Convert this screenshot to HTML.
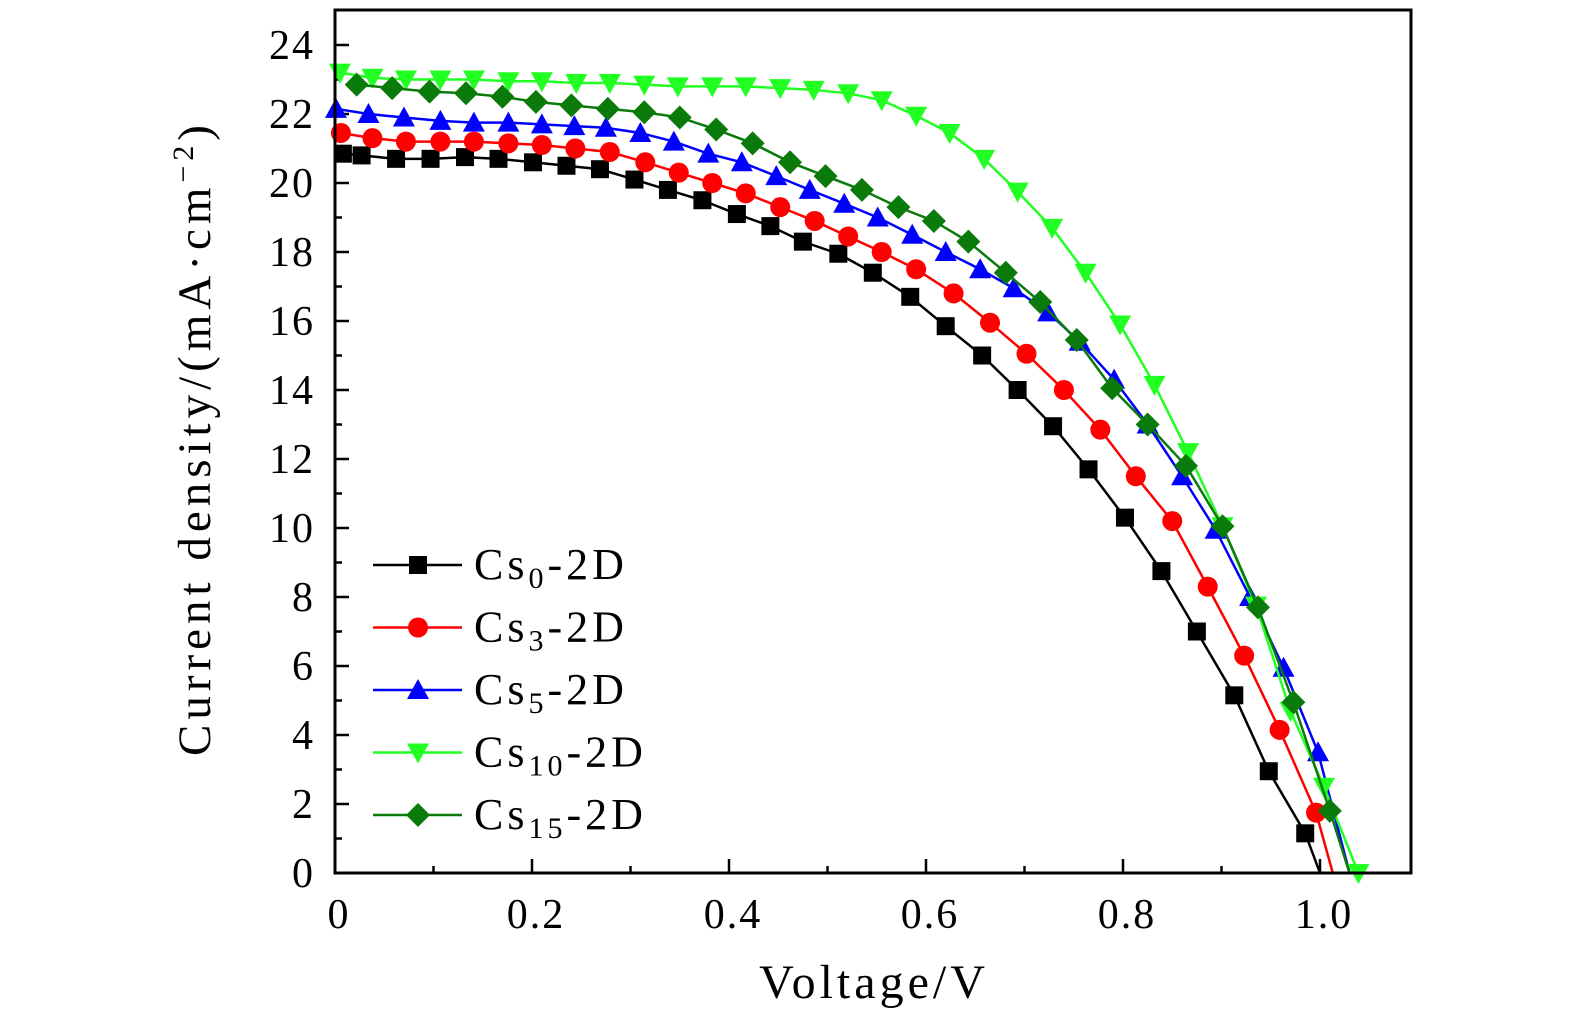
<!DOCTYPE html>
<html><head><meta charset="utf-8"><style>
html,body{margin:0;padding:0;background:#fff;}
svg text{font-family:"Liberation Serif","DejaVu Serif",serif;}
</style></head><body>
<svg id="chart" width="1575" height="1024" xmlns="http://www.w3.org/2000/svg"></svg>
<script>
const xTicks=[0,0.2,0.4,0.6,0.8,1.0];
const xTickLabels=["0","0.2","0.4","0.6","0.8","1.0"];
const yTicks=[0,2,4,6,8,10,12,14,16,18,20,22,24];
const v0=[.008,.027,.062,.097,.132,.166,.201,.235,.269,.304,.338,.373,.408,.442,.475,.511,.546,.584,.620,.657,.693,.729,.765,.802,.839,.875,.913,.948,.985];
const j0=[20.85,20.8,20.7,20.7,20.75,20.7,20.6,20.5,20.4,20.1,19.8,19.5,19.1,18.75,18.3,17.95,17.4,16.7,15.85,15.0,14.0,12.95,11.7,10.3,8.75,7.0,5.15,2.95,1.15];
const v3=[.006,.038,.072,.107,.141,.176,.210,.244,.279,.315,.349,.383,.417,.452,.487,.521,.555,.590,.628,.665,.702,.740,.777,.813,.850,.886,.923,.959,.996];
const j3=[21.45,21.3,21.2,21.2,21.2,21.15,21.1,21.0,20.9,20.6,20.3,20.0,19.7,19.3,18.9,18.45,18.0,17.5,16.8,15.95,15.05,14.0,12.85,11.5,10.2,8.3,6.3,4.15,1.75];
const v5=[.001,.034,.070,.107,.141,.176,.210,.243,.275,.310,.344,.379,.413,.448,.482,.517,.551,.586,.620,.655,.689,.724,.756,.791,.825,.860,.894,.929,.963,.998];
const j5=[22.15,22.0,21.9,21.8,21.75,21.75,21.7,21.65,21.6,21.45,21.2,20.85,20.6,20.2,19.8,19.4,19.0,18.5,18.0,17.5,16.95,16.25,15.4,14.3,13.0,11.5,9.95,8.0,5.95,3.5];
const v10=[.005,.038,.072,.107,.141,.176,.210,.245,.279,.314,.348,.383,.417,.452,.486,.521,.555,.590,.624,.659,.693,.728,.762,.797,.832,.866,.901,.935,.970,1.004,1.039];
const j10=[23.2,23.05,23.0,23.0,23.0,22.95,22.95,22.9,22.9,22.85,22.8,22.8,22.8,22.75,22.7,22.6,22.4,21.95,21.45,20.7,19.75,18.7,17.4,15.9,14.15,12.2,10.05,7.75,4.7,2.5,0];
const v15=[.022,.058,.096,.133,.170,.204,.240,.277,.314,.350,.387,.424,.462,.498,.535,.572,.608,.643,.681,.716,.753,.789,.825,.864,.901,.937,.973,1.010];
const j15=[22.85,22.75,22.65,22.6,22.5,22.35,22.25,22.15,22.05,21.9,21.55,21.15,20.6,20.2,19.8,19.3,18.9,18.3,17.4,16.55,15.45,14.05,13.0,11.8,10.05,7.7,4.95,1.8];
const vocs=[1.0,1.013,1.030,1.039,1.030];
const names=["0","3","5","10","15"];
const colors=["#000","#f00","#00f","#2f2","#0a7a0a"];
const markers=["square","circle","triangle","tri-down","diamond"];
const seriesV=[v0,v3,v5,v10,v15], seriesJ=[j0,j3,j5,j10,j15];

const NS="http://www.w3.org/2000/svg";
const svg=document.getElementById('chart');
const L=335,R=1411,T=10,B=873;
const X=v=>L+v*985, Y=j=>B-j*34.5;
function mk(tag,attrs,parent){const e=document.createElementNS(NS,tag);for(const k in attrs)e.setAttribute(k,attrs[k]);(parent||svg).appendChild(e);return e;}

const tg=mk('g',{});


for(let i=0;i<=10;i++){const v=i/10;const len=i%2==0?14:7;mk('line',{x1:X(v),x2:X(v),y1:B,y2:B-len,stroke:'#000','stroke-width':2.5},tg);}
for(let i=0;i<=24;i++){const len=i%2==0?14:7;mk('line',{x1:L,x2:L+len,y1:Y(i),y2:Y(i),stroke:'#000','stroke-width':2.5},tg);}
xTicks.forEach((v,i)=>{const t=mk('text',{x:X(v)+4,y:B+55,'font-size':42,'letter-spacing':2,'text-anchor':'middle'});t.textContent=xTickLabels[i];

});
yTicks.forEach(j=>{const t=mk('text',{x:L-20,y:Y(j)+14,'font-size':42,'letter-spacing':2,'text-anchor':'end'});t.textContent=String(j);

});

function marker(g,type,x,y,c){
  if(type=='square')mk('rect',{x:x-9,y:y-9,width:18,height:18,fill:c},g);
  else if(type=='circle')mk('circle',{cx:x,cy:y,r:10,fill:c},g);
  else if(type=='triangle')mk('polygon',{points:`${x},${y-11} ${x+11},${y+9} ${x-11},${y+9}`,fill:c},g);
  else if(type=='tri-down')mk('polygon',{points:`${x},${y+11} ${x+11},${y-9} ${x-11},${y-9}`,fill:c},g);
  else mk('polygon',{points:`${x},${y-12} ${x+12},${y} ${x},${y+12} ${x-12},${y}`,fill:c},g);
}
seriesV.forEach((vs,s)=>{
  const g=mk('g',{});
  
  
  let pts=vs.map((v,i)=>X(v)+','+Y(seriesJ[s][i]));
  pts.push(X(vocs[s])+','+Y(0));
  mk('polyline',{points:pts.join(' '),fill:'none',stroke:colors[s],'stroke-width':2.5},g);
  vs.forEach((v,i)=>marker(g,markers[s],X(v),Y(seriesJ[s][i]),colors[s]));
});

const fr=mk('rect',{x:L,y:T,width:R-L,height:B-T,fill:'none',stroke:'#000','stroke-width':3});



const lg=mk('g',{});


names.forEach((n,s)=>{
  const y=565+s*62.5;
  const e=mk('g',{},lg);
  
  
  mk('line',{x1:373,x2:462,y1:y,y2:y,stroke:colors[s],'stroke-width':2.5},e);
  marker(e,markers[s],418,y,colors[s]);
  const t=mk('text',{x:474,y:y+14,'font-size':44,'letter-spacing':4},e);
  t.innerHTML='Cs<tspan font-size="30" dy="9">'+n+'</tspan><tspan dy="-9">-2D</tspan>';
});

const xt=mk('text',{x:874,y:998,'font-size':48,'letter-spacing':4,'text-anchor':'middle'});
xt.textContent='Voltage/V';


const yt=mk('text',{x:0,y:0,'font-size':47,'letter-spacing':5,'text-anchor':'middle',transform:'translate(210,438) rotate(-90)'});
yt.innerHTML='Current density/(mA·cm<tspan font-size="30" dy="-17">−2</tspan><tspan dy="17">)</tspan>';


</script>
</body></html>
